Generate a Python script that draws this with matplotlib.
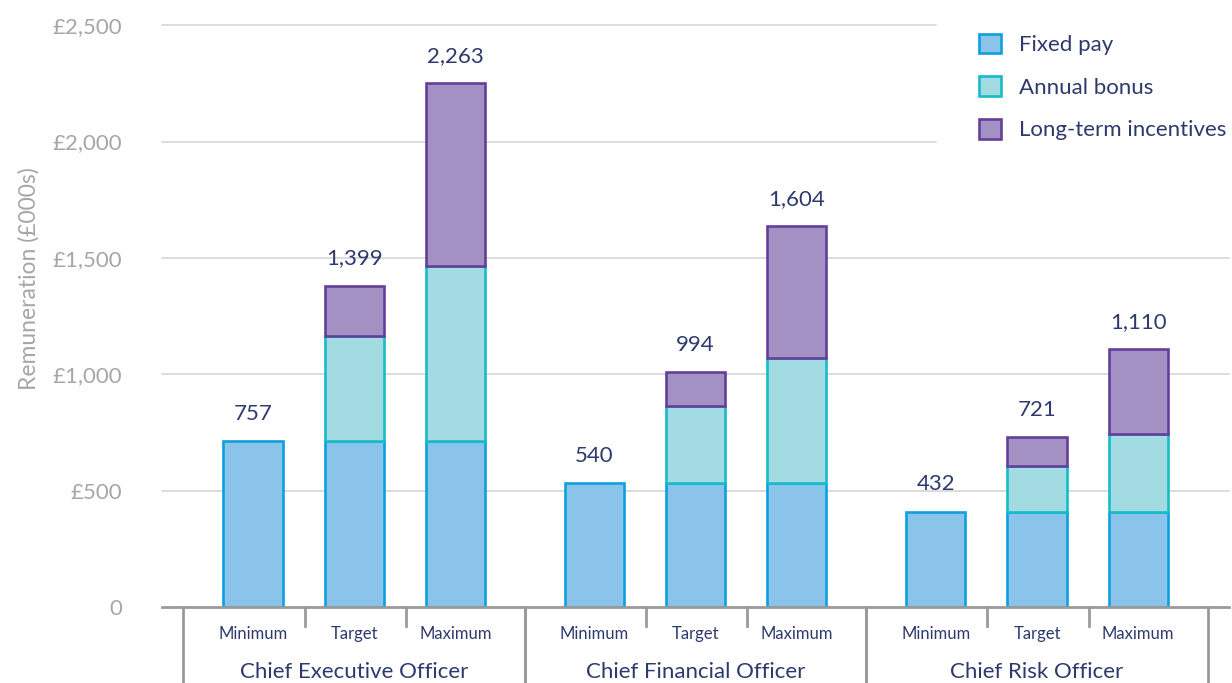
import matplotlib
matplotlib.use("Agg")
import matplotlib.pyplot as plt
from matplotlib.lines import Line2D
from matplotlib.patches import Patch

plt.rcParams['font.family'] = ['Lato', 'DejaVu Sans']

# Data (GBP 000s)
roles = ["Chief Executive Officer", "Chief Financial Officer", "Chief Risk Officer"]
scenarios = ["Minimum", "Target", "Maximum"]
fixed_pay = [715, 715, 715, 533, 533, 533, 410, 410, 410]
annual_bonus = [0, 450, 752, 0, 331, 536, 0, 197, 333]
long_term = [0, 216, 785, 0, 145, 567, 0, 125, 364]
totals = [757, 1399, 2263, 540, 994, 1604, 432, 721, 1110]
y_ticks = [0, 500, 1000, 1500, 2000, 2500]
y_tick_labels = ["0", "£500", "£1,000", "£1,500", "£2,000", "£2,500"]

navy = "#2E3A6E"
grey = "#A6A6A6"
styles = [
    ("Fixed pay", "#8BC4EA", "#0EA0DC"),
    ("Annual bonus", "#A2DBE2", "#16BCC8"),
    ("Long-term incentives", "#A391C4", "#643F9A"),
]

# x positions: three bars per role, small extra gap between roles
gap = 0.376
xs = []
for g in range(len(roles)):
    for i in range(len(scenarios)):
        xs.append(g * (3 + gap) + i)

fig = plt.figure(figsize=(12.32, 6.83), dpi=100)
ax = fig.add_axes([160 / 1232, 1 - 607 / 683, 1072 / 1232, 607 / 683])

# gridlines (top two stop short of the legend)
for t in y_ticks[1:]:
    xmax = 0.724 if t >= 2000 else 0.997
    ax.axhline(t, xmin=0.002, xmax=xmax, color="#D2D2D2", lw=1.1, zorder=0)

bottom = [0] * len(xs)
for vals, (name, face, edge) in zip([fixed_pay, annual_bonus, long_term], styles):
    for x, v, b in zip(xs, vals, bottom):
        if v > 0:
            ax.bar(x, v, bottom=b, width=0.585, color=face, edgecolor=edge,
                   linewidth=1.9, zorder=2)
    bottom = [b + v for b, v in zip(bottom, vals)]

# total labels above bars
for x, top, t in zip(xs, bottom, totals):
    ax.annotate(f"{t:,}", (x, top), xytext=(0, 19.5), textcoords="offset points",
                ha="center", va="center", fontsize=16, color=navy)

ax.set_xlim(-0.92, 9.68)
ax.set_ylim(0, 2608)
ax.set_yticks(y_ticks)
ax.set_yticklabels(y_tick_labels, fontsize=16, color=grey)
ax.tick_params(axis="y", length=0, pad=27)
ax.set_xticks([])
for s in ax.spines.values():
    s.set_visible(False)

# baseline
ax.axhline(0, xmin=0.002, xmax=0.997, color="#9A9A9A", lw=2, zorder=3, clip_on=False)

# category axis: scenario ticks and role separators
tr = ax.get_xaxis_transform()
for g in range(len(roles)):
    left = xs[g * 3] - 0.688
    right = xs[g * 3 + 2] + 0.688
    for xb in (left, right):
        ax.add_line(Line2D([xb, xb], [0, -0.125], transform=tr, color="#9A9A9A",
                           lw=2, clip_on=False))
    for i in range(2):
        xm = xs[g * 3 + i] + 0.51
        ax.add_line(Line2D([xm, xm], [0, -0.031], transform=tr, color="#9A9A9A",
                           lw=2, clip_on=False))
    for i, sc in enumerate(scenarios):
        ax.text(xs[g * 3 + i], -0.0445, sc, transform=tr, ha="center", va="center",
                fontsize=12, color=navy)
    ax.text(xs[g * 3 + 1], -0.107, roles[g], transform=tr, ha="center", va="center",
            fontsize=16, color=navy)

fig.text(28.5 / 1232, 1 - 278.5 / 683, "Remuneration (£000s)", rotation=90,
         ha="center", va="center", fontsize=16.5, color=grey)

handles = [Patch(facecolor=f, edgecolor=e, linewidth=1.9, label=n) for n, f, e in styles]
leg = fig.legend(handles=handles, loc="upper left",
                 bbox_to_anchor=(979 / 1232, 1 - 33.5 / 683), frameon=False,
                 fontsize=16, handlelength=1.0, handleheight=1.0,
                 handletextpad=0.8, labelspacing=0.95, borderpad=0, borderaxespad=0)
for txt in leg.get_texts():
    txt.set_color(navy)

fig.savefig("out.png", dpi=100)
